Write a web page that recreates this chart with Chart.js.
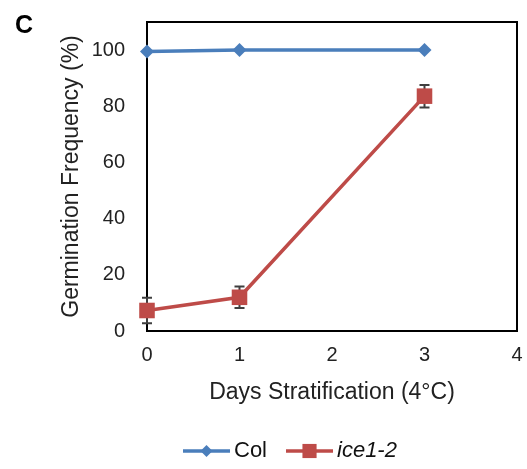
<!DOCTYPE html>
<html>
<head>
<meta charset="utf-8">
<script src="https://cdn.jsdelivr.net/npm/chart.js@4.4.1/dist/chart.umd.min.js"></script>
<style>
  html, body { margin: 0; padding: 0; background: #fff; }
</style>
</head>
<body>
<canvas id="chart" width="527" height="469"></canvas>
<script>
// values
const days = [0, 1, 3];
const colValues = [99.5, 100, 100];
const iceValues = [7.3, 12, 83.6];
const iceErrors = [4.5, 3.8, 4];
const xTicks = [0, 1, 2, 3, 4];
const yTicks = [0, 20, 40, 60, 80, 100];
const seriesNames = ["Col", "ice1-2"];
const italicNames = [false, true];

const FONT = '"Liberation Sans", Arial, sans-serif';
const BLUE = "#4A7EBB";
const RED = "#BE4B48";

/*===== FRAME + ERROR BARS =====*/
const framePlugin = {
  id: "frame",
  beforeDatasetsDraw(chart) {
    const { ctx, chartArea: a, scales } = chart;
    ctx.save();
    ctx.strokeStyle = "#000";
    ctx.lineWidth = 2;
    ctx.strokeRect(a.left, a.top, a.right - a.left, a.bottom - a.top);

    // error bars for ice1-2
    ctx.strokeStyle = "#3F3F3F";
    ctx.lineWidth = 2;
    days.forEach((d, i) => {
      const px = scales.x.getPixelForValue(d);
      const hi = scales.y.getPixelForValue(iceValues[i] + iceErrors[i]);
      const lo = scales.y.getPixelForValue(iceValues[i] - iceErrors[i]);
      ctx.beginPath();
      ctx.moveTo(px, hi); ctx.lineTo(px, lo);
      ctx.moveTo(px - 5, hi); ctx.lineTo(px + 5, hi);
      ctx.moveTo(px - 5, lo); ctx.lineTo(px + 5, lo);
      ctx.stroke();
    });
    ctx.restore();
  }
};

/*===== LEGEND (line with marker) + PANEL LETTER =====*/
const legendPlugin = {
  id: "lineLegend",
  afterDraw(chart) {
    const ctx = chart.ctx;
    const y = 451;
    let x = 183;
    ctx.save();
    chart.data.datasets.forEach((ds, i) => {
      ctx.strokeStyle = ds.borderColor;
      ctx.lineWidth = 3.5;
      ctx.beginPath();
      ctx.moveTo(x, y);
      ctx.lineTo(x + 47, y);
      ctx.stroke();
      ctx.fillStyle = ds.backgroundColor;
      Chart.helpers.drawPoint(ctx, {
        pointStyle: ds.pointStyle,
        radius: i === 0 ? 6 : 10,
        rotation: 0,
        borderWidth: 0
      }, x + 23.5, y);

      ctx.fillStyle = "#111";
      ctx.font = (italicNames[i] ? "italic " : "") + "22px " + FONT;
      ctx.textBaseline = "middle";
      ctx.textAlign = "left";
      ctx.fillText(ds.label, x + 51, y);
      x += 51 + ctx.measureText(ds.label).width + 19;
    });

    ctx.fillStyle = "#000";
    ctx.font = "bold 25px " + FONT;
    ctx.textBaseline = "middle";
    ctx.fillText("C", 15, 26);
    ctx.restore();
  }
};

const ctx = document.getElementById("chart").getContext("2d");
new Chart(ctx, {
  type: "line",
  data: {
    datasets: [
      {
        label: seriesNames[0],
        data: days.map((d, i) => ({ x: d, y: colValues[i] })),
        borderColor: BLUE,
        backgroundColor: BLUE,
        borderWidth: 3.5,
        pointStyle: "rectRot",
        pointRadius: 7,
        pointBorderWidth: 0,
        clip: false
      },
      {
        label: seriesNames[1],
        data: days.map((d, i) => ({ x: d, y: iceValues[i] })),
        borderColor: RED,
        backgroundColor: RED,
        borderWidth: 3.5,
        pointStyle: "rect",
        pointRadius: 11,
        pointBorderWidth: 0,
        clip: false
      }
    ]
  },
  options: {
    responsive: false,
    animation: false,
    layout: { autoPadding: false, padding: { left: 50, right: 10, top: 22, bottom: 63 } },
    plugins: {
      legend: { display: false },
      tooltip: { enabled: false }
    },
    scales: {
      x: {
        type: "linear",
        min: 0,
        max: 4,
        grid: { display: false, drawTicks: false },
        border: { display: false },
        afterBuildTicks: (scale) => { scale.ticks = xTicks.map((v) => ({ value: v })); },
        ticks: {
          padding: 12,
          color: "#222",
          font: { family: FONT, size: 20 }
        },
        title: {
          display: true,
          text: "Days Stratification (4°C)",
          color: "#222",
          font: { family: FONT, size: 23 },
          padding: { top: 0, bottom: 0 }
        },
        afterFit: (scale) => {
          scale.height = 75;
          scale.paddingLeft = 0;
          scale.paddingRight = 0;
        }
      },
      y: {
        min: 0,
        max: 110,
        grid: { display: false, drawTicks: false },
        border: { display: false },
        afterBuildTicks: (scale) => { scale.ticks = yTicks.map((v) => ({ value: v })); },
        ticks: {
          padding: 22,
          color: "#222",
          font: { family: FONT, size: 20 }
        },
        title: {
          display: true,
          text: "Germination Frequency (%)",
          color: "#222",
          font: { family: FONT, size: 23 },
          padding: { top: 8, bottom: 0 }
        },
        afterFit: (scale) => {
          scale.width = 97;
          scale.paddingTop = 0;
          scale.paddingBottom = 0;
        }
      }
    }
  },
  plugins: [framePlugin, legendPlugin]
});
</script>
</body>
</html>
